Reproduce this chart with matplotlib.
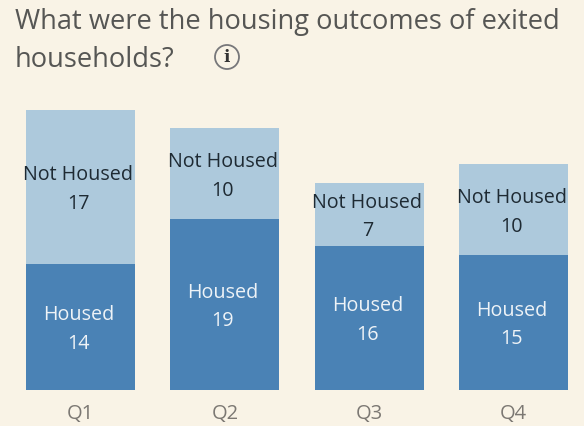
import matplotlib
matplotlib.use("Agg")
import matplotlib.pyplot as plt
from matplotlib.patches import Circle

quarters = ["Q1", "Q2", "Q3", "Q4"]
housed = [14, 19, 16, 15]
not_housed = [17, 10, 7, 10]
title_lines = ["What were the housing outcomes of exited", "households?"]

BG = "#F9F3E6"
W, H = 584, 426
plt.rcParams["font.family"] = ["Open Sans", "DejaVu Sans"]
fig = plt.figure(figsize=(W / 100, H / 100), dpi=100, facecolor=BG)
ax = fig.add_axes([8.3 / W, (H - 390) / H, 575.7 / W, 300 / H], facecolor="none")

x = list(range(len(quarters)))
ax.bar(x, housed, width=0.755, color="#4A82B5")
ax.bar(x, not_housed, width=0.755, bottom=housed, color="#ADC9DC")
ax.set_xlim(-0.5, 3.487)
ax.set_ylim(0, 300 / 9.02)
for s in ax.spines.values():
    s.set_visible(False)
ax.set_yticks([])
ax.set_xticks(x, quarters)
ax.tick_params(axis="x", length=0, pad=10, labelsize=14.5, labelcolor="#7C7873")

dx = -2 / 144.4
dy = -2.8 / 9.02
for i in x:
    ax.text(i + dx, housed[i] / 2 + dy, f"Housed\n{housed[i]}", ha="center", va="center",
            fontsize=14.2, color="#EEF3F7", linespacing=1.58)
    ax.text(i + dx, housed[i] + not_housed[i] / 2 + dy, f"Not Housed\n{not_housed[i]}", ha="center", va="center",
            fontsize=14.2, color="#1E2A33", linespacing=1.58)

fig.text(15 / W, 1 - 22 / H, title_lines[0], fontsize=19.6, color="#565654", va="center", ha="left")
fig.text(15 / W, 1 - 60 / H, title_lines[1], fontsize=19.6, color="#565654", va="center", ha="left")

overlay = fig.add_axes([0, 0, 1, 1], facecolor="none")
overlay.set_xlim(0, W)
overlay.set_ylim(H, 0)
overlay.axis("off")
overlay.add_patch(Circle((227, 57), 12, fill=False, ec="#77777A", lw=1.3))
overlay.text(227, 57, "i", ha="center", va="center", fontsize=12, color="#333333",
             family="DejaVu Serif", fontweight="bold")

fig.savefig("out.png", dpi=100, facecolor=BG)
